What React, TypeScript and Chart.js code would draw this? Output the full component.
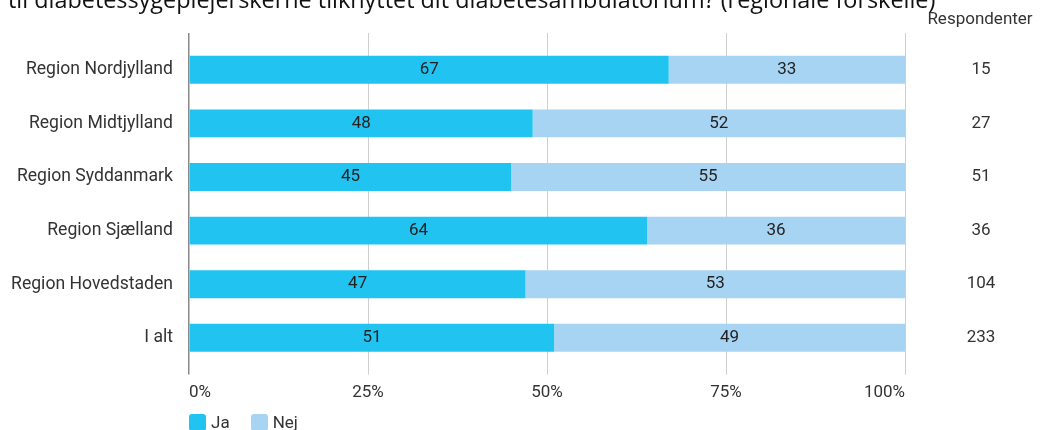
import React, { useEffect, useRef } from 'react';
import { Chart, registerables } from 'chart.js';

Chart.register(...registerables);

const categories = [
  'Region Nordjylland',
  'Region Midtjylland',
  'Region Syddanmark',
  'Region Sjælland',
  'Region Hovedstaden',
  'I alt',
];
const jaValues = [67, 48, 45, 64, 47, 51];
const nejValues = [33, 52, 55, 36, 53, 49];
const respondents = [15, 27, 51, 36, 104, 233];
const xTickValues = [0, 25, 50, 75, 100];
const seriesNames = ['Ja', 'Nej'];
const seriesColors = ['#21C3F1', '#A8D4F3'];
const titleText =
  'til diabetessygeplejerskerne tilknyttet dit diabetesambulatorium? (regionale forskelle)';
const respondentHeader = 'Respondenter';

const FONT = 'Roboto';
const FS = 17;

const gridColor = (c: any) => (c.index === 0 ? '#8a8a8a' : '#cfcfcf');
const gridWidth = (c: any) => (c.index === 0 ? 1.5 : 1);
const setTicks = (s: any) => {
  s.ticks = xTickValues.map((v) => ({ value: v }));
};

const overlay = {
  id: 'overlay',
  afterDatasetsDraw(chart: any) {
    const ctx = chart.ctx;
    ctx.save();
    ctx.font = `${FS}px ${FONT}`;
    ctx.fillStyle = '#222';
    ctx.textAlign = 'center';
    ctx.textBaseline = 'middle';
    chart.data.datasets.forEach((ds: any, di: number) => {
      const meta = chart.getDatasetMeta(di);
      meta.data.forEach((el: any, i: number) => {
        const { x, base, y } = el.getProps(['x', 'base', 'y'], true);
        ctx.fillText(String(ds.data[i]), (x + base) / 2, y);
      });
    });
    const yScale = chart.scales.y;
    ctx.fillStyle = '#333';
    respondents.forEach((r, i) => {
      ctx.fillText(String(r), 981, yScale.getPixelForValue(i));
    });
    ctx.fillText(respondentHeader, 980, 20);
    ctx.font = '23.4px "Open Sans"';
    ctx.textAlign = 'left';
    ctx.textBaseline = 'alphabetic';
    ctx.fillStyle = '#111';
    ctx.fillText(titleText, 8, 8);
    ctx.restore();
  },
};

export default function App() {
  const ref = useRef<HTMLCanvasElement>(null);
  useEffect(() => {
    if (!ref.current) return;
    const chart = new Chart(ref.current, {
      type: 'bar',
      data: {
        labels: categories,
        datasets: [
          {
            label: seriesNames[0],
            data: jaValues,
            backgroundColor: seriesColors[0],
            barPercentage: 0.52,
            categoryPercentage: 1,
          },
          {
            label: seriesNames[1],
            data: nejValues,
            backgroundColor: seriesColors[1],
            barPercentage: 0.52,
            categoryPercentage: 1,
          },
        ],
      },
      options: {
        indexAxis: 'y',
        animation: false,
        responsive: false,
        maintainAspectRatio: false,
        layout: { padding: { top: 33, left: 0, right: 145, bottom: 19 } },
        plugins: { legend: { display: false }, tooltip: { enabled: false } },
        scales: {
          x: {
            type: 'linear',
            stacked: true,
            min: 0,
            max: 100,
            position: 'bottom',
            afterBuildTicks: setTicks,
            ticks: {
              align: 'inner',
              padding: 8,
              color: '#333',
              font: { family: FONT, size: FS },
              callback: (v: any) => v + '%',
            },
            grid: { color: gridColor, lineWidth: gridWidth, tickLength: 10 },
            border: { display: false },
          },
          x2: {
            type: 'linear',
            axis: 'x',
            min: 0,
            max: 100,
            position: 'top',
            afterBuildTicks: setTicks,
            ticks: { display: false },
            grid: {
              drawOnChartArea: false,
              tickLength: 10,
              color: gridColor,
              lineWidth: gridWidth,
            },
            border: { display: false },
          },
          y: {
            stacked: true,
            afterFit: (s: any) => {
              s.width = 189;
            },
            ticks: {
              padding: 16,
              color: '#333',
              font: { family: FONT, size: 17.6 },
            },
            grid: { display: false, drawTicks: false },
            border: { display: false },
          },
        },
      } as any,
      plugins: [overlay],
    });
    return () => chart.destroy();
  }, []);

  return (
    <div style={{ position: 'absolute', left: 0, top: 0, width: 1050, height: 430, background: '#fff', overflow: 'hidden' }}>
      <canvas ref={ref} width={1050} height={430} style={{ display: 'block' }} />
      <div
        style={{
          position: 'absolute',
          left: 189,
          top: 414,
          display: 'flex',
          alignItems: 'center',
          fontFamily: FONT,
          fontSize: FS,
          lineHeight: '17px',
          color: '#333',
        }}
      >
        {seriesNames.map((n, i) => (
          <div key={n} style={{ display: 'flex', alignItems: 'center', marginRight: 21 }}>
            <span
              style={{
                display: 'inline-block',
                width: 17,
                height: 17,
                borderRadius: 3,
                background: seriesColors[i],
                marginRight: 5,
              }}
            />
            <span>{n}</span>
          </div>
        ))}
      </div>
    </div>
  );
}
